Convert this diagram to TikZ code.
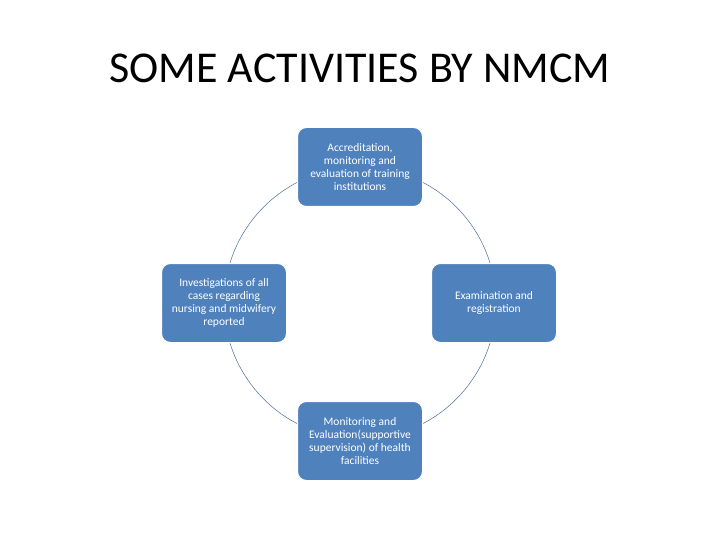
\documentclass[tikz,border=0pt]{standalone}
\usepackage{fontspec}
\setmainfont{Carlito}
\definecolor{boxblue}{HTML}{4F81BD}
\definecolor{ringc}{HTML}{4A6E99}
\begin{document}
\begin{tikzpicture}[x=1pt,y=-1pt,
  box/.style={draw=white,line width=1pt,fill=boxblue,rounded corners=9pt,minimum width=125pt,minimum height=79pt,align=center,text=white,font=\fontsize{11.5}{13}\selectfont,inner sep=2pt}]
\useasboundingbox[fill=white] (0,0) rectangle (720,540);
\node (title) at (360,68) {\fontsize{44}{48}\selectfont SOME ACTIVITIES BY NMCM};
\node[draw=ringc,line width=0.5pt,circle,minimum size=272pt,inner sep=0] (ring) at (360,303) {};
\node[box] (top) at (360,167) {Accreditation,\\monitoring and\\evaluation of training\\institutions};
\node[box] (right) at (494,303) {Examination and\\registration};
\node[box] (bottom) at (360,441) {Monitoring and\\Evaluation(supportive\\supervision) of health\\facilities};
\node[box] (left) at (224,303) {Investigations of all\\cases regarding\\nursing and midwifery\\reported};
\end{tikzpicture}
\end{document}
